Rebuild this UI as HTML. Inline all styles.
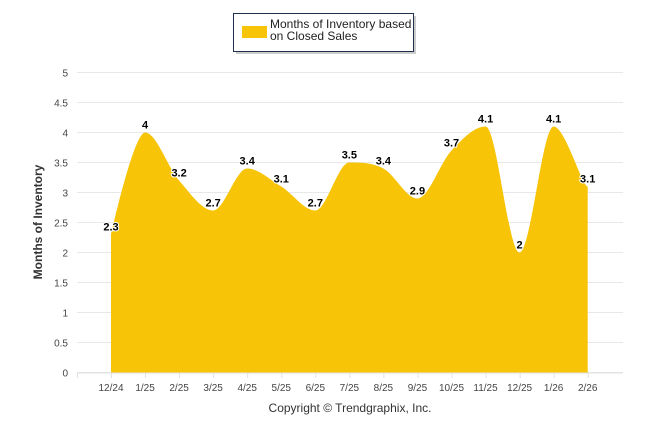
<!DOCTYPE html>
<html><head><meta charset="utf-8"><style>
body{margin:0;background:#fff;}
svg{display:block;font-family:"Liberation Sans",Arial,sans-serif;}
</style></head><body>
<svg id="c" width="646" height="434" xmlns="http://www.w3.org/2000/svg">
<rect x="236" y="16" width="180" height="38" fill="#999" opacity="0.5"/>
<rect x="233.5" y="13.5" width="180" height="38" fill="#fff" stroke="#1f2f4f" stroke-width="1"/>
<rect x="242" y="26" width="25" height="12" fill="#F7C408"/>
<text x="270" y="28" font-size="12" fill="#222">Months of Inventory based</text>
<text x="270" y="40" font-size="12" fill="#222">on Closed Sales</text>
<g id="grid"></g>
<path id="area" fill="#F7C408"/>
<g id="labels"></g>
<text transform="translate(42,222) rotate(-90)" text-anchor="middle" font-size="12" font-weight="bold" fill="#333">Months of Inventory</text>
<text x="350" y="412" text-anchor="middle" font-size="12" fill="#333">Copyright © Trendgraphix, Inc.</text>
</svg>
<script>
var ns="http://www.w3.org/2000/svg";
function el(t,a,p,txt){var e=document.createElementNS(ns,t);for(var k in a)e.setAttribute(k,a[k]);if(txt!=null)e.textContent=txt;p.appendChild(e);return e;}
var g=document.getElementById('grid'),L=document.getElementById('labels');
function Y(v){return 372.5-v*60;}
for(var i=0;i<=10;i++){var v=i/2,y=Y(v);
 el('line',{x1:77,x2:623,y1:y,y2:y,stroke:'#e8e8e8','stroke-width':1},g);
 el('text',{x:68,y:y+4,'text-anchor':'end','font-size':10,fill:'#444'},g,String(v));}
var cats=['12/24','1/25','2/25','3/25','4/25','5/25','6/25','7/25','8/25','9/25','10/25','11/25','12/25','1/26','2/26'];
var vals=[2.3,4,3.2,2.7,3.4,3.1,2.7,3.5,3.4,2.9,3.7,4.1,2,4.1,3.1];
function X(i){return 111+i*34.05;}
el('line',{x1:77,x2:623,y1:373,y2:373,stroke:'#e0e0e0'},g);
for(var i=-1;i<15;i++){var x=X(i)+0.5;el('line',{x1:x,x2:x,y1:373,y2:378,stroke:'#e0e0e0'},g);}
cats.forEach(function(c,i){el('text',{x:X(i),y:391,'text-anchor':'middle','font-size':10,fill:'#444'},g,c);});
var P=vals.map(function(v,i){return [X(i),Y(v)];});
var d='M'+P[0][0]+','+Y(0)+' L'+P[0][0]+','+P[0][1];
var s=1.5;
for(var i=0;i<P.length-1;i++){
 var p0=P[i-1]||P[i],p1=P[i],p2=P[i+1],p3=P[i+2]||P[i+1];
 function cp(a,b,c){ // highcharts-like control
  return null;}
 var c1x=p1[0]+(p2[0]-p0[0])/6*(i==0?0.0:1),c1y=p1[1]+(p2[1]-p0[1])/6;
 var c2x=p2[0]-(p3[0]-p1[0])/6,c2y=p2[1]-(p3[1]-p1[1])/6;
 // flatten at local extrema
 if((p1[1]-p0[1])*(p1[1]-p2[1])>0||i==0){c1y=p1[1];}
 if((p2[1]-p1[1])*(p2[1]-p3[1])>0||i==P.length-2){c2y=p2[1];}
 d+=' C'+c1x+','+c1y+' '+c2x+','+c2y+' '+p2[0]+','+p2[1];}
d+=' L'+P[P.length-1][0]+','+Y(0)+' Z';
document.getElementById('area').setAttribute('d',d);
vals.forEach(function(v,i){var t=el('text',{x:X(i),y:Y(v)-4,'text-anchor':'middle','font-size':11,'font-weight':'bold',fill:'#000',stroke:'#fff','stroke-width':2,'paint-order':'stroke'},L,String(v));});
</script>
</body></html>
